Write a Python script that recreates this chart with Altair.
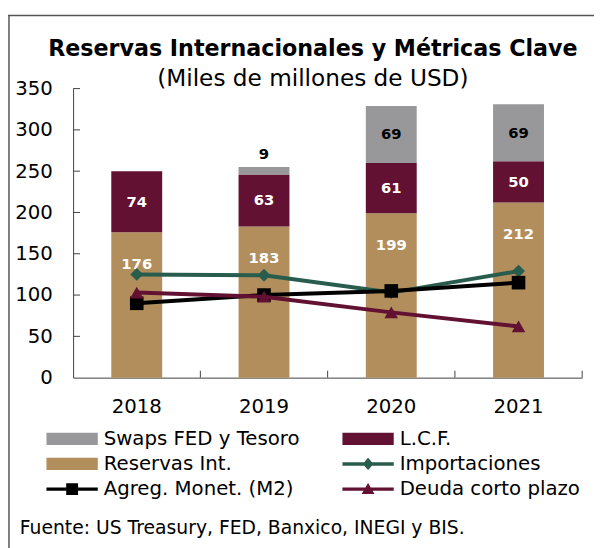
import altair as alt
import pandas as pd

# ---------------- data ----------------
years = ["2018", "2019", "2020", "2021"]
reservas = [176, 183, 199, 212]
lcf = [74, 63, 61, 50]
swaps = [0, 9, 69, 69]
importaciones = [125, 124, 103, 129]
agreg_m2 = [90, 100, 105, 115]
deuda = [103, 98, 79, 62]
y_ticks = [0, 50, 100, 150, 200, 250, 300, 350]

title_text = "Reservas Internacionales y Métricas Clave"
subtitle_text = "(Miles de millones de USD)"
source_text = "Fuente: US Treasury, FED, Banxico, INEGI y BIS."

bar_series = ["Reservas Int.", "L.C.F.", "Swaps FED y Tesoro"]
# legend entries, listed column by column (2 columns x 3 rows)
legend_names = ["Swaps FED y Tesoro", "Reservas Int.", "Agreg. Monet. (M2)",
                "L.C.F.", "Importaciones", "Deuda corto plazo"]

# ---------------- style ----------------
FONT = "DejaVu Sans"
TAN = "#B38E5D"
MAROON = "#621132"
GRAY = "#98989A"
GREEN = "#285C4D"
BLACK = "#000000"
AXIS = "#404040"

W, H = 516, 293

# legend symbol paths (unit = sqrt(size)/2 px)
P_RECT = "M-2.6,-0.62H2.6V0.62H-2.6Z"
P_LINE = "M-2.6,-0.17H2.6V0.17H-2.6Z"
P_DIAM = P_LINE + "M0,-0.62L0.55,0L0,0.62L-0.55,0Z"
P_SQR = P_LINE + "M-0.6,-0.6H0.6V0.6H-0.6Z"
P_TRI = P_LINE + "M0,-0.62L0.65,0.5H-0.65Z"
legend_colors = [GRAY, TAN, BLACK, MAROON, GREEN, MAROON]
legend_shapes = [P_RECT, P_RECT, P_SQR, P_RECT, P_DIAM, P_TRI]

# ---------------- tables ----------------
rows = []
for i, yr in enumerate(years):
    base = 0
    for name, vals in zip(bar_series, [reservas, lcf, swaps]):
        v = vals[i]
        rows.append(dict(year=yr, series=name, value=v, base=base,
                         top=base + v, mid=base + v / 2))
        base += v
bars_df = pd.DataFrame(rows)

x_enc = alt.X("year:N", sort=years, title=None,
              scale=alt.Scale(paddingInner=0.6, paddingOuter=0.3),
              axis=alt.Axis(labelFont=FONT, labelFontSize=20, labelColor="black",
                            labelAngle=0, ticks=False, labelPadding=19,
                            domainColor=AXIS, domainWidth=1))
y_scale = alt.Scale(domain=[0, 350])
y_axis = alt.Axis(values=y_ticks, grid=False, ticks=False, labelFont=FONT,
                  labelFontSize=20, labelColor="black", labelPadding=21,
                  domainColor=AXIS, domainWidth=1)

bars = alt.Chart(bars_df).mark_bar().encode(
    x=x_enc,
    y=alt.Y("top:Q", scale=y_scale, axis=y_axis, title=None),
    y2="base:Q",
    fill=alt.Fill("series:N", scale=alt.Scale(domain=bar_series, range=[TAN, MAROON, GRAY]),
                  legend=None),
)

lbl_kw = dict(font=FONT, fontSize=15, fontWeight="bold")
lbl_res = alt.Chart(bars_df).transform_filter(
    alt.datum.series == "Reservas Int.").mark_text(color="white", dy=32, **lbl_kw).encode(
    x="year:N", y=alt.Y("top:Q", scale=y_scale), text="value:Q")
lbl_lcf = alt.Chart(bars_df).transform_filter(
    alt.datum.series == "L.C.F.").mark_text(color="white", **lbl_kw).encode(
    x="year:N", y=alt.Y("mid:Q", scale=y_scale), text="value:Q")
lbl_sw_in = alt.Chart(bars_df).transform_filter(
    (alt.datum.series == "Swaps FED y Tesoro") & (alt.datum.value >= 20)).mark_text(
    color="black", **lbl_kw).encode(
    x="year:N", y=alt.Y("mid:Q", scale=y_scale), text="value:Q")
lbl_sw_out = alt.Chart(bars_df).transform_filter(
    (alt.datum.series == "Swaps FED y Tesoro") & (alt.datum.value > 0) & (alt.datum.value < 20)).mark_text(
    color="black", dy=-13, **lbl_kw).encode(
    x="year:N", y=alt.Y("top:Q", scale=y_scale), text="value:Q")

line_layers = []
for name, vals, col, shp, sz in [
    ("Importaciones", importaciones, GREEN, "diamond", 170),
    ("Agreg. Monet. (M2)", agreg_m2, BLACK, "square", 190),
    ("Deuda corto plazo", deuda, MAROON, "triangle-up", 190),
]:
    df = pd.DataFrame({"year": years, "value": vals, "series": name})
    base = alt.Chart(df).encode(x="year:N", y=alt.Y("value:Q", scale=y_scale))
    line_layers.append(base.mark_line(color=col, strokeWidth=4))
    line_layers.append(base.mark_point(filled=True, shape=shp, size=sz, color=col, opacity=1))

# inside ticks
xt = alt.Chart(pd.DataFrame({"year": years})).mark_rule(
    color=AXIS, strokeWidth=1, xOffset=64.5).encode(
    x="year:N", y=alt.value(H - 7), y2=alt.value(H))
yt = alt.Chart(pd.DataFrame({"v": y_ticks[1:]})).mark_rule(
    color=AXIS, strokeWidth=1).encode(
    y=alt.Y("v:Q", scale=y_scale), x=alt.value(0), x2=alt.value(7))

# legend (empty layer, legend from explicit domains)
leg_df = pd.DataFrame({"series": legend_names})
legend_cfg = alt.Legend(orient="none", legendX=-27, legendY=345, columns=2,
                        columnPadding=43, rowPadding=5.5, title=None,
                        symbolSize=400, symbolStrokeWidth=0, symbolOffset=16,
                        labelOffset=22, labelFont=FONT, labelFontSize=20, labelLimit=400,
                        labelColor="black", padding=0, symbolOpacity=1)
leg = alt.Chart(leg_df).transform_filter("false").mark_point(filled=True, opacity=1).encode(
    color=alt.Color("series:N", scale=alt.Scale(domain=legend_names, range=legend_colors),
                    legend=legend_cfg),
    shape=alt.Shape("series:N", scale=alt.Scale(domain=legend_names, range=legend_shapes),
                    legend=legend_cfg),
)

# title texts
ttl = alt.Chart(pd.DataFrame({"t": [title_text]})).mark_text(
    font=FONT, fontSize=22.5, fontWeight="bold", align="center", baseline="alphabetic",
    color="black").encode(text="t:N", x=alt.value(243), y=alt.value(-33))
sub = alt.Chart(pd.DataFrame({"t": [subtitle_text]})).mark_text(
    font=FONT, fontSize=23.5, align="center", baseline="alphabetic",
    color="black").encode(text="t:N", x=alt.value(243), y=alt.value(-3))

src = alt.Chart(pd.DataFrame({"t": [source_text]})).mark_text(
    font=FONT, fontSize=19, align="left", baseline="middle", color="black").encode(
    text="t:N", x=alt.value(-54), y=alt.value(446))

# frame lines (top and left)
frame_top = alt.Chart(pd.DataFrame({"a": [0]})).mark_rule(color="#555555", strokeWidth=1.5).encode(
    x=alt.value(-66), x2=alt.value(540), y=alt.value(-74))
frame_left = alt.Chart(pd.DataFrame({"a": [0]})).mark_rule(color="#555555", strokeWidth=1.5).encode(
    x=alt.value(-65), y=alt.value(-74), y2=alt.value(480))

chart = alt.layer(
    leg, bars, lbl_res, lbl_lcf, lbl_sw_in, lbl_sw_out, *line_layers, xt, yt,
    ttl, sub, src, frame_top, frame_left
).properties(
    width=W, height=H,
    padding={"left": 66, "top": 78, "right": 12, "bottom": 169},
    autosize=alt.AutoSizeParams(type="none"),
).configure_view(stroke="transparent")

chart.save("out.html", embed_options={"renderer": "svg", "actions": False})
